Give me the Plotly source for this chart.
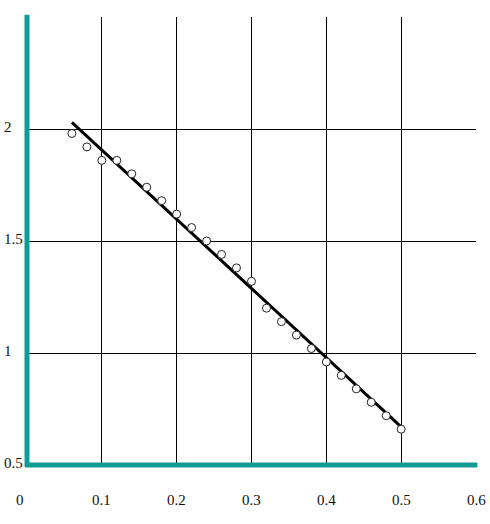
import plotly.graph_objects as go

# data
x_pts = [0.06, 0.08, 0.10, 0.12, 0.14, 0.16, 0.18, 0.20, 0.22, 0.24, 0.26, 0.28,
         0.30, 0.32, 0.34, 0.36, 0.38, 0.40, 0.42, 0.44, 0.46, 0.48, 0.50]
y_pts = [1.98, 1.92, 1.86, 1.86, 1.80, 1.74, 1.68, 1.62, 1.56, 1.50, 1.44, 1.38,
         1.32, 1.20, 1.14, 1.08, 1.02, 0.96, 0.90, 0.84, 0.78, 0.72, 0.66]
fit_x = [0.06, 0.50]
fit_y = [2.03, 0.67]

x_ticks = [0, 0.1, 0.2, 0.3, 0.4, 0.5, 0.6]
x_tick_labels = ["0", "0.1", "0.2", "0.3", "0.4", "0.5", "0.6"]
y_ticks = [0.5, 1, 1.5, 2]
y_tick_labels = ["0.5", "1", "1.5", "2"]

TEAL = "#109b93"
FONT = dict(family="Liberation Serif", size=15, color="#111")

fig = go.Figure()
fig.add_trace(go.Scatter(x=fit_x, y=fit_y, mode="lines",
                         line=dict(color="black", width=3), hoverinfo="skip"))
fig.add_trace(go.Scatter(x=x_pts, y=y_pts, mode="markers",
                         marker=dict(size=8, color="white",
                                     line=dict(color="#222", width=1))))

annotations = []
for v, t in zip(x_ticks, x_tick_labels):
    annotations.append(dict(x=v, y=0, xref="x", yref="paper", text=t,
                            showarrow=False, font=FONT, xanchor="center",
                            yanchor="middle", yshift=-35,
                            xshift=-7 if v == 0 else 0))
for v, t in zip(y_ticks, y_tick_labels):
    annotations.append(dict(x=0, y=v, xref="paper", yref="y", text=t,
                            showarrow=False, font=FONT, xanchor="left",
                            yanchor="middle", xshift=-25, yshift=2))

shapes = [
    dict(type="line", xref="paper", yref="paper", x0=0, x1=0, y0=-0.004, y1=1.005,
         line=dict(color=TEAL, width=5), layer="above"),
    dict(type="line", xref="paper", yref="paper", x0=-0.004, x1=1.003, y0=0, y1=0,
         line=dict(color=TEAL, width=5), layer="above"),
]

fig.update_layout(
    width=490, height=524,
    margin=dict(l=27, r=14, t=17, b=59),
    paper_bgcolor="white", plot_bgcolor="white",
    showlegend=False,
    annotations=annotations,
    shapes=shapes,
    xaxis=dict(range=[0, 0.6], tickvals=[0.1, 0.2, 0.3, 0.4, 0.5, 0.6],
               showticklabels=False, ticks="",
               showgrid=True, gridcolor="black", gridwidth=1,
               zeroline=False, showline=False),
    yaxis=dict(range=[0.5, 2.5], tickvals=[1, 1.5, 2, 2.5],
               showticklabels=False, ticks="",
               showgrid=True, gridcolor="black", gridwidth=1,
               zeroline=False, showline=False),
)

fig.write_html("out.html", config={"displayModeBar": False},
               post_script="document.body.style.margin='0';document.body.style.padding='0';")
